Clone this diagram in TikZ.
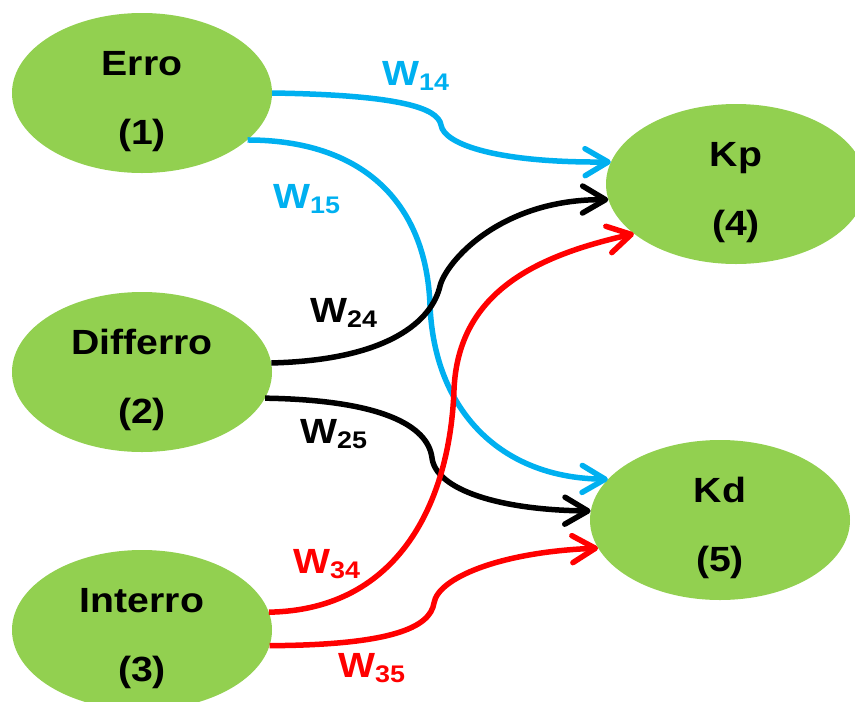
\documentclass[tikz,border=0pt]{standalone}
\usepackage{fontspec}
\setmainfont{Liberation Sans}[FakeStretch=1.12]
\usetikzlibrary{arrows.meta,shapes.geometric}
\definecolor{leaf}{HTML}{92D050}
\definecolor{sky}{HTML}{00B0F0}
\newcommand{\wlab}[1]{W{\fontsize{24}{28}\selectfont\raisebox{-5pt}{#1}}}
\newcommand{\vname}[2]{\rule{0pt}{33pt}#1\\\smash{(#2)}}

\begin{document}
\begin{tikzpicture}[x=1pt,y=-1pt,
    var/.style={ellipse,fill=leaf,minimum width=260pt,minimum height=160pt,inner sep=0pt,align=center,
      font=\fontsize{35}{69}\selectfont\bfseries},
    wire/.style={line width=5.5pt,-{Straight Barb[length=23pt,width=27pt,line cap=round,line join=round]}},
    wt/.style={anchor=base west,inner sep=0pt,font=\fontsize{35}{40}\selectfont\bfseries}]
  \useasboundingbox (0,0) rectangle (855,702);
  % inputs
  \node[var] (erro) at (142,93) {\vname{Erro}{1}};
  \node[var] (diff) at (142,372) {\vname{Differro}{2}};
  \node[var] (inter) at (142,630) {\vname{Interro}{3}};
  % outputs
  \node[var] (kp) at (736,184) {\vname{Kp}{4}};
  \node[var] (kd) at (720,520) {\vname{Kd}{5}};
  % weights
  \draw[wire,sky] (erro.east) .. controls (400,95) and (438,108) .. (441,125) .. controls (444,145) and (500,163) .. (kp.170);
  \draw[wire,sky] (erro.-24) .. controls (360,140) and (426,200) .. (430,305) .. controls (434,410) and (500,478) .. (kd.160);
  \draw[wire] (diff.4) .. controls (390,360) and (432,320) .. (440,286) .. controls (446,262) and (500,199) .. (kp.187);
  \draw[wire] (diff.-12) .. controls (380,400) and (428,425) .. (432,458) .. controls (436,490) and (500,510) .. (kd.176);
  \draw[wire,red] (inter.8) .. controls (400,610) and (450,500) .. (454,390) .. controls (458,290) and (540,255) .. (kp.206);
  \draw[wire,red] (inter.-7) .. controls (390,645) and (430,628) .. (434,603) .. controls (438,578) and (500,552) .. (kd.193);
  \node[wt,sky] (w14) at (382,85) {\wlab{14}};
  \node[wt,sky] (w15) at (273,208) {\wlab{15}};
  \node[wt] (w24) at (310,322) {\wlab{24}};
  \node[wt] (w25) at (300,443) {\wlab{25}};
  \node[wt,red] (w34) at (293,573) {\wlab{34}};
  \node[wt,red] (w35) at (338,677) {\wlab{35}};
\end{tikzpicture}
\end{document}
